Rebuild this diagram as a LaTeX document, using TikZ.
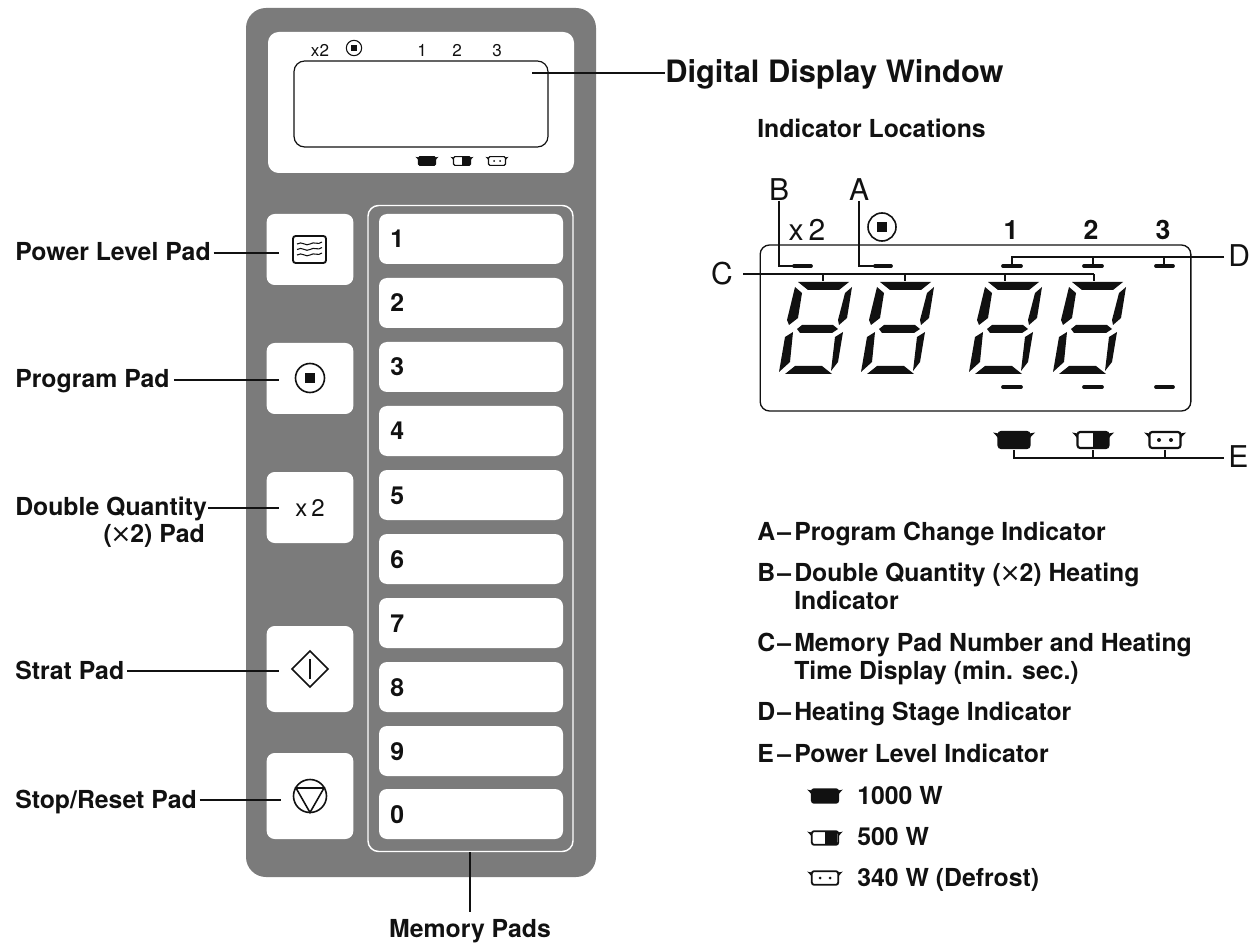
\documentclass[tikz,border=0pt]{standalone}
\usepackage{fontspec}
\setmainfont{TeX Gyre Heros}
\newfontfamily\xfont{DejaVu Sans}
\definecolor{panelgray}{HTML}{7B7B7B}
\definecolor{ink}{HTML}{111111}
\newcommand{\potshape}[5]{% x y scale bodyfill halffill
  \begin{scope}[shift={(#1,#2)},scale=#3]
    \fill[ink] (-15.5,-6.5) -- (-21,-7.5) -- (-18,-4.5) -- (-15.5,-1.5) -- cycle;
    \fill[ink] (15.5,-6.5) -- (21,-7.5) -- (18,-4.5) -- (15.5,-1.5) -- cycle;
    \fill[#4,rounded corners=#3*1.5pt] (-15.5,-8) rectangle (15.5,8);
    \fill[#5] (0,-7) rectangle (14.5,7);
    \draw[ink,line width=#3*1.6pt,rounded corners=#3*2pt] (-15.5,-8) rectangle (15.5,8);
  \end{scope}}
\newcommand{\segdigit}[1]{%
  \begin{scope}[shift={(#1,282)}]
    \fill[ink] (0,0)--(51,0)--(41,8)--(10,8)--cycle;
    \fill[ink] (-3,5)--(4,11)--(0,36)--(-9,43)--(-11,38)--cycle;
    \fill[ink] (54,5)--(49,36)--(41,43)--(40,38)--(47,11)--cycle;
    \fill[ink] (-1,47)--(4,43)--(35,43)--(40,47)--(34,51)--(2,51)--cycle;
    \fill[ink] (-5,50)--(-8,80)--(-19,90)--(-13,55)--cycle;
    \fill[ink] (45,50)--(40,80)--(33,89)--(37,55)--cycle;
    \fill[ink] (-13,92)--(-3,84)--(24,84)--(34,92)--cycle;
  \end{scope}}
\newcommand{\seglist}[2]{\hbox to 27.75pt{\makebox[15pt][l]{#1}–\hfil}#2}
\newcommand{\bigx}{\makebox[14pt]{\xfont\fontsize{19}{19}\fontseries{m}\selectfont ×}}
\tikzset{
  lbl/.style={font=\fontsize{18.6}{21}\selectfont\bfseries,text=ink,inner sep=0pt,anchor=base west},
  lblr/.style={lbl,anchor=base east},
  bigl/.style={font=\fontsize{22.5}{26}\selectfont,text=ink,inner sep=0pt,anchor=base},
  bigb/.style={font=\fontsize{20}{24}\selectfont\bfseries,text=ink,inner sep=0pt,anchor=base},
  tiny/.style={font=\fontsize{12.8}{15}\selectfont,text=ink,inner sep=0pt,anchor=base},
  padbox/.style={fill=white,rounded corners=6pt,inner sep=0pt,minimum width=65pt},
  leader/.style={ink,line width=0.95pt},
  dashmark/.style={ink,line width=2.8pt,line cap=round},
  icon/.style={ink,line width=1.2pt},
}
\begin{document}
\begin{tikzpicture}[x=0.75pt,y=-0.75pt]
\useasboundingbox (0,0) rectangle (1253,948);
% panel
\node[fill=panelgray,rounded corners=15pt,inner sep=0pt,minimum width=262.5pt,minimum height=651.75pt] (panel) at (421,442.5) {};
\node[fill=white,rounded corners=8pt,inner sep=0pt,minimum width=229.5pt,minimum height=105.75pt] (dispbox) at (421,102.5) {};
\node[draw=ink,line width=0.9pt,rounded corners=8pt,inner sep=0pt,minimum width=190.5pt,minimum height=64.5pt] (dispwin) at (421,104) {};
\node[tiny] (tx2) at (320,57) {x2};
\node[draw=ink,circle,line width=0.8pt,minimum size=11.5pt,inner sep=0pt] (tprog) at (354,48) {};
\fill[ink] (351.2,45.2) rectangle (356.8,50.8);
\node[tiny] (t1) at (422,57) {1};
\node[tiny] (t2) at (457,57) {2};
\node[tiny] (t3) at (497,57) {3};
\potshape{427}{161}{.55}{ink}{ink}
\potshape{462}{161}{.55}{white}{ink}
\potshape{497}{161}{.55}{white}{white}
\fill[ink] (494,161) circle (1) (500,161) circle (1);
% side pads
\node[padbox,minimum height=53.25pt] (ppower) at (310,249.5) {};
\node[padbox,minimum height=53.25pt] (pprog) at (310,378.5) {};
\node[padbox,minimum height=53.25pt,font=\fontsize{18}{20}\selectfont,text=ink] (pdouble) at (310,507.5) {x\,2};
\node[padbox,minimum height=64.5pt] (pstart) at (310,669) {};
\node[padbox,minimum height=64.5pt] (pstop) at (310,796) {};
% memory frame
\node[draw=white,line width=1.1pt,rounded corners=8pt,inner sep=0pt,minimum width=153.75pt,minimum height=484.5pt] (memframe) at (470.5,528.5) {};
\foreach \d/\t/\b in {1/214/264,2/278/328,3/342/392,4/406/456,5/470/520,6/534/584,7/598/648,8/662/712,9/726/776,0/789/839}{
  \node[fill=white,rounded corners=6pt,inner sep=0pt,minimum width=138pt,minimum height=37.5pt] (mem\d) at (471,{(\t+\b)/2}) {};
  \node[lbl] (memt\d) at (390,{(\t+\b)/2+9}) {\d};
}
% icons
\draw[icon,rounded corners=2pt,line width=1.4pt] (293,236) rectangle (326,263);
\foreach \yy in {244,249.5,255}{
  \draw[ink,line width=0.8pt] (297,\yy) .. controls (302,{\yy-3.5}) and (306,{\yy+3}) .. (310,\yy) .. controls (314,{\yy-3}) and (318,{\yy+1.5}) .. (322,{\yy-2});
}
\draw[icon] (310,378) circle (14.5);
\fill[ink] (305,373) rectangle (315,383);
\draw[icon,line join=miter] (292,669) -- (310,651) -- (328,669) -- (310,687) -- cycle;
\draw[ink,line width=1.7pt] (310,659) -- (310,679);
\draw[icon] (310,796) circle (16.5);
\draw[icon] (296,788) -- (324,788) -- (310,812.5) -- cycle;
% panel labels
\node[lbl] (lpower) at (15,261) {Power Level Pad};
\node[lbl] (lprog) at (15,388) {Program Pad};
\node[lbl] (ldouble) at (15,515) {Double Quantity};
\node[lblr] (ldouble2) at (205,542) {(\bigx2) Pad};
\node[lbl] (lstart) at (15,679) {Strat Pad};
\node[lbl] (lstop) at (15,808) {Stop/Reset Pad};
\node[font=\fontsize{18.6}{21}\selectfont\bfseries,text=ink,inner sep=0pt,anchor=base] (lmem) at (470,937) {Memory Pads};
\coordinate (epower) at (279,253);
\coordinate (eprog) at (279,380);
\coordinate (edouble) at (279,508);
\coordinate (estart) at (279,671);
\coordinate (estop) at (281,800);
\coordinate (ememtop) at (470,852);
\coordinate (ememlow) at (470,912);
\coordinate (edisp) at (532,73);
\draw[leader] ([xshift=2pt]lpower.east |- epower) -- (epower);
\draw[leader] ([xshift=3pt]lprog.east |- eprog) -- (eprog);
\draw[leader] ([xshift=1pt]ldouble.east |- edouble) -- (edouble);
\draw[leader] ([xshift=2pt]lstart.east |- estart) -- (estart);
\draw[leader] ([xshift=2pt]lstop.east |- estop) -- (estop);
\draw[leader] (ememtop) -- (ememlow);
% headings
\node[font=\fontsize{23.1}{26}\selectfont\bfseries,text=ink,inner sep=0pt,anchor=base west] (ldig) at (665,83) {Digital Display Window};
\draw[leader] (edisp) -- (ldig.west |- edisp);
\node[lbl] (lind) at (757,138) {Indicator Locations};
% detail
\node[draw=ink,line width=1pt,rounded corners=7pt,inner sep=0pt,minimum width=323pt,minimum height=124.5pt] (detail) at (975.5,328) {};
\segdigit{798}\segdigit{880}\segdigit{988}\segdigit{1072}
\node[bigl] (bx2) at (807,241) {x\,2};
\draw[ink,line width=1.2pt] (882,227) circle (14);
\fill[ink] (877,222) rectangle (887,232);
\node[bigb] (b1) at (1011,240) {1};
\node[bigb] (b2) at (1091,240) {2};
\node[bigb] (b3) at (1163,240) {3};
\node[bigl] (cb) at (779,201) {B};
\node[bigl] (ca) at (859,201) {A};
\node[bigl,anchor=base east] (cc) at (733,285) {C};
\node[bigl,anchor=base west] (cd) at (1228,267) {D};
\node[bigl,anchor=base west] (ce) at (1228,468) {E};
\foreach \n/\a/\b/\y in {db/794/811/266,da/875/891/266,d1/1003/1021/266,d2/1084/1102/266,d3/1156/1173/266,u1/1003/1021/387,u2/1084/1102/387,u3/1156/1173/387}{
  \coordinate (\n l) at (\a,\y);
  \coordinate (\n r) at (\b,\y);
  \draw[dashmark] (\n l) -- (\n r);
}
\draw[leader] (cb.south) -- (779,266) -- (dbl);
\draw[leader] (ca.south) -- (859,266) -- (dal);
\coordinate (cend) at (1094,274);
\coordinate (cstart) at (743,274);
\draw[leader] (cstart) -- (cend);
\foreach \x in {823,905,1005,1094}{\draw[leader] (\x,274) -- (\x,281);}
\coordinate (dleft) at (1012,257);
\draw[leader] ([xshift=-3pt]cd.west |- dleft) -- (dleft) -- (1012,266);
\draw[leader] (1093,257) -- (1093,266);
\draw[leader] (1164,257) -- (1164,266);
\potshape{1014}{440}{1}{ink}{ink}
\potshape{1093}{440}{1}{white}{ink}
\potshape{1165}{440}{1}{white}{white}
\fill[ink] (1159,440) circle (2) (1171,440) circle (2);
\coordinate (eleft) at (1014,458);
\draw[leader] (1014,450) -- (eleft) -- ([xshift=-3pt]ce.west |- eleft);
\draw[leader] (1093,450) -- (1093,458);
\draw[leader] (1165,450) -- (1165,458);
% legend
\node[lbl] (la) at (757,540) {\seglist{A}{Program Change Indicator}};
\node[lbl] (lb) at (757,581) {\seglist{B}{Double Quantity (\bigx2) Heating}};
\node[lbl] (lb2) at (794,609) {Indicator};
\node[lbl] (lc) at (757,651) {\seglist{C}{Memory Pad Number and Heating}};
\node[lbl] (lc2) at (794,679) {Time Display (min. sec.)};
\node[lbl] (ld) at (757,720) {\seglist{D}{Heating Stage Indicator}};
\node[lbl] (le) at (757,762) {\seglist{E}{Power Level Indicator}};
\potshape{825}{796}{.85}{ink}{ink}
\potshape{825}{838}{.85}{white}{ink}
\potshape{825}{878}{.85}{white}{white}
\fill[ink] (820,878) circle (1.5) (830,878) circle (1.5);
\node[lbl] (w1) at (857,804) {1000 W};
\node[lbl] (w2) at (857,845) {500 W};
\node[lbl] (w3) at (857,886) {340 W (Defrost)};
\end{tikzpicture}
\end{document}
